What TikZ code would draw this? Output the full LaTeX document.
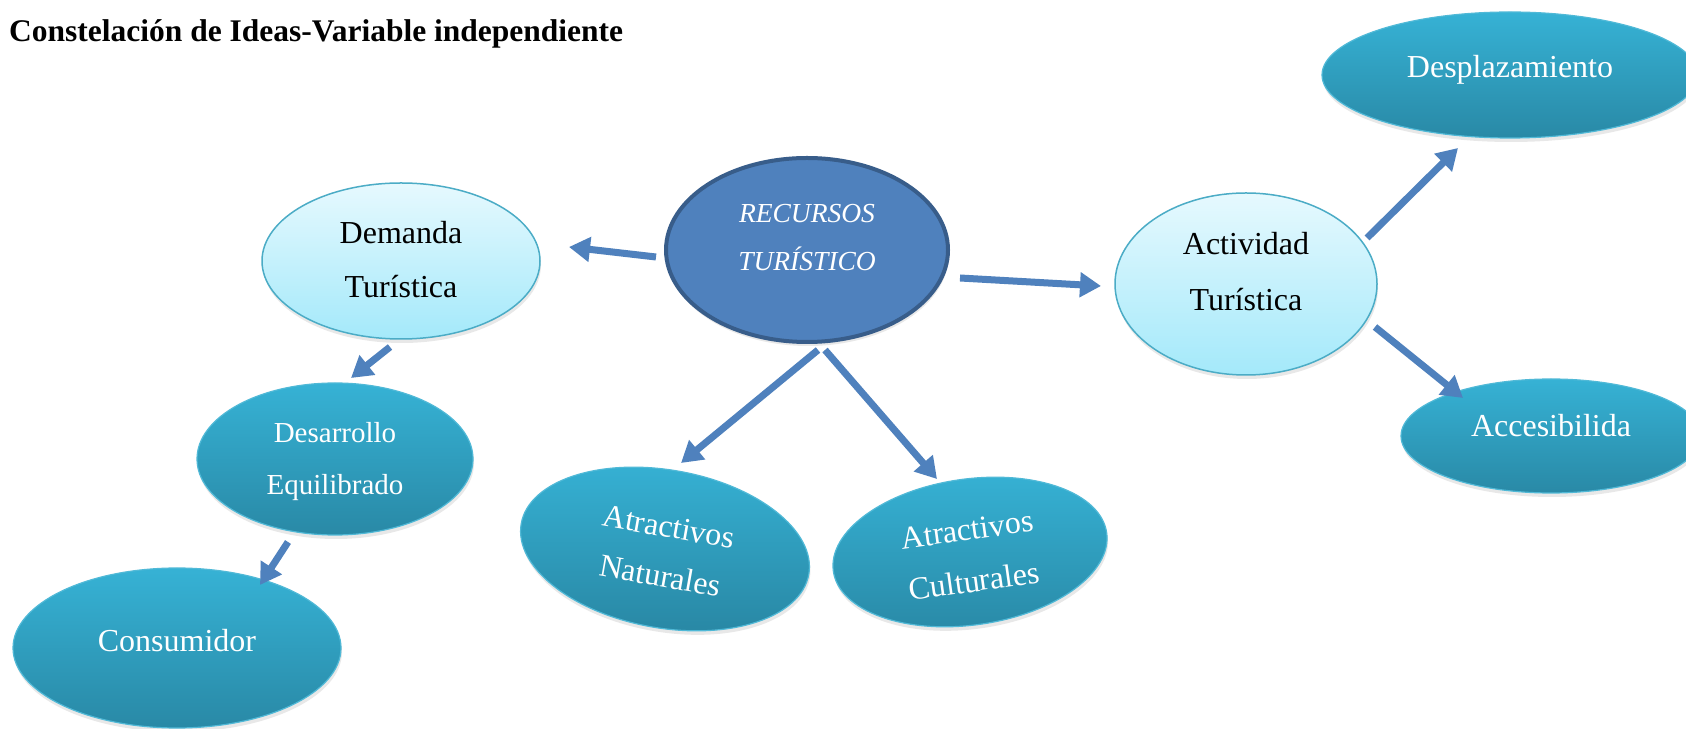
\documentclass[tikz,border=0pt]{standalone}
\usepackage{fontspec}
\setmainfont{Liberation Serif}
\usetikzlibrary{arrows.meta,shapes.geometric,shadows}
\definecolor{arrowblue}{RGB}{79,129,189}
\definecolor{recfill}{RGB}{79,129,189}
\definecolor{recedge}{RGB}{56,93,138}
\definecolor{lighttop}{RGB}{230,249,254}
\definecolor{lightbot}{RGB}{164,233,250}
\definecolor{lightedge}{RGB}{75,172,198}
\definecolor{darktop}{RGB}{54,178,213}
\definecolor{darkbot}{RGB}{41,137,166}
\definecolor{darkedge}{RGB}{80,185,215}
\begin{document}
\begin{tikzpicture}[x=1pt,y=1pt,
  shadowed/.style={drop shadow={shadow xshift=1pt,shadow yshift=-4pt,opacity=0.18}},
  lightell/.style={ellipse, draw=lightedge, line width=1.5pt, top color=lighttop, bottom color=lightbot, inner sep=0pt, shadowed},
  darkell/.style={ellipse, draw=darkedge, line width=1.2pt, top color=darktop, bottom color=darkbot, inner sep=0pt, shadowed},
  recell/.style={ellipse, draw=recedge, line width=4pt, fill=recfill, inner sep=0pt, shadowed},
  lt/.style={font=\fontsize{32}{38}\selectfont, text=black, inner sep=0pt, anchor=base},
  wt/.style={font=\fontsize{32}{38}\selectfont, text=white, inner sep=0pt, anchor=base},
  wts/.style={font=\fontsize{29}{34}\selectfont, text=white, inner sep=0pt, anchor=base},
  rt/.style={font=\itshape\fontsize{27.5}{33}\selectfont, text=white, inner sep=0pt, anchor=base},
  arr/.style={draw=arrowblue, line width=7pt, -{Triangle[length=21pt,width=24pt]}}
]
\useasboundingbox (0,0) rectangle (1686,728);
\clip (0,0) rectangle (1686,728);
\fill[white] (0,0) rectangle (1686,728);

% title
\node[anchor=base west, inner sep=0pt, font=\bfseries\fontsize{31.5}{36}\selectfont] (title) at (9,686) {Constelación de Ideas-Variable independiente};

% ellipses
\node[lightell, minimum width=278, minimum height=156] (dem) at (401,467) {};
\node[lt] (demA) at ([yshift=17]dem.center) {Demanda};
\node[lt] (demB) at ([yshift=-37]dem.center) {Turística};

\node[recell, minimum width=282, minimum height=184] (rec) at (807,478) {};
\node[rt] (recA) at ([yshift=27]rec.center) {RECURSOS};
\node[rt] (recB) at ([yshift=-21]rec.center) {TURÍSTICO};

\node[lightell, minimum width=262, minimum height=182] (act) at (1246,444) {};
\node[lt] (actA) at ([yshift=29]act.center) {Actividad};
\node[lt] (actB) at ([yshift=-27]act.center) {Turística};

\node[darkell, minimum width=376, minimum height=126] (des) at (1510,653) {};
\node[wt] (desA) at ([yshift=-3]des.center) {Desplazamiento};

\node[darkell, minimum width=300, minimum height=114] (acc) at (1551,292) {};
\node[wt] (accA) at ([yshift=-1]acc.center) {Accesibilida};

\node[darkell, minimum width=276, minimum height=152] (dev) at (335,269) {};
\node[wts] (devA) at ([yshift=16]dev.center) {Desarrollo};
\node[wts] (devB) at ([yshift=-36]dev.center) {Equilibrado};

\node[darkell, minimum width=328, minimum height=160] (con) at (177,80) {};
\node[wt] (conA) at ([yshift=-4]con.center) {Consumidor};

\node[darkell, rotate=-10, minimum width=292, minimum height=158] (nat) at (665,179) {};
\node[wt, rotate=-10] (natA) at ([shift={(80:12)}]nat.center) {Atractivos};
\node[wt, rotate=-10] (natB) at ([shift={(260:38)}]nat.center) {Naturales};

\node[darkell, rotate=8, minimum width=276, minimum height=146] (cul) at (970,176) {};
\node[wt, rotate=8] (culA) at ([shift={(98:12)}]cul.center) {Atractivos};
\node[wt, rotate=8] (culB) at ([shift={(278:40)}]cul.center) {Culturales};

% arrows
\draw[arr] ([shift={(-151,-7)}]rec.center) -- ([shift={(168,14)}]dem.center);
\draw[arr] ([shift={(153,-28)}]rec.center) -- ([shift={(-145,-2)}]act.center);
\draw[arr] ([shift={(11,-100)}]rec.center) -- ([shift={(16,86)}]nat.center);
\draw[arr] ([shift={(18,-100)}]rec.center) -- ([shift={(-33,73)}]cul.center);
\draw[arr] ([shift={(-11,-86)}]dem.center) -- ([shift={(16,81)}]dev.center);
\draw[arr] ([shift={(-47,-83)}]dev.center) -- ([shift={(83,63)}]con.center);
\draw[arr] ([shift={(121,46)}]act.center) -- ([shift={(-52,-73)}]des.center);
\draw[arr] ([shift={(129,-43)}]act.center) -- ([shift={(-88,38)}]acc.center);
\end{tikzpicture}
\end{document}
